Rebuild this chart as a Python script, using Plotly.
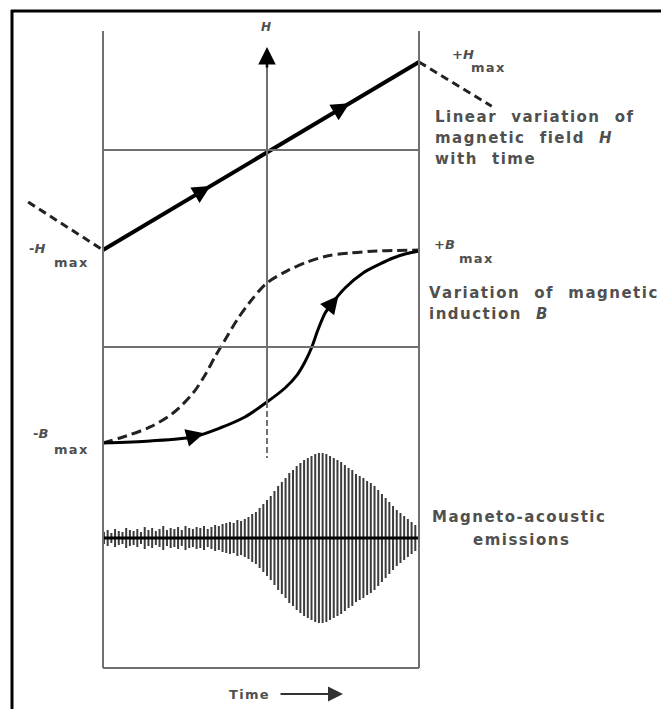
import numpy as np
import plotly.graph_objects as go

# ---------------- data (time in arbitrary units 0..10) ----------------
# Linear variation of magnetic field H (normalised to Hmax)
t_H = [0.0, 10.0]
H_vals = [-1.0, 1.0]
t_H_prev = [-2.37, 0.0]      # previous half cycle (dashed)
H_prev = [-0.49, -1.0]
t_H_next = [10.0, 12.3]      # next half cycle (dashed)
H_next = [1.0, 0.53]

# Magnetic induction B (normalised to Bmax) - solid branch
t_B_solid = [0.0, 1.49, 2.85, 3.70, 4.49, 5.19, 5.76, 6.14, 6.39, 6.61, 6.80, 7.03,
             7.28, 7.66, 8.23, 8.77, 9.18, 9.56, 10.0]
B_solid = [-1.0, -0.979, -0.9375, -0.844, -0.729, -0.573, -0.427, -0.292, -0.156, 0.0,
           0.177, 0.354, 0.469, 0.615, 0.771, 0.865, 0.927, 0.969, 1.0]
# dashed branch
t_B_dash = [0.0, 0.54, 1.49, 2.22, 2.85, 3.23, 3.54, 3.86, 4.24, 4.65, 5.19, 5.82,
            6.46, 7.09, 7.82, 8.67, 10.0]
B_dash = [-1.0, -0.948, -0.833, -0.688, -0.479, -0.292, -0.104, 0.073, 0.281, 0.469,
          0.667, 0.792, 0.885, 0.948, 0.979, 1.0, 1.01]

# Magneto-acoustic emission burst amplitudes (a.u.), evenly sampled over the sweep
emission_amp = [6, 8, 5, 9, 7, 6, 10, 8, 7, 9, 6, 11, 8, 10, 7, 9, 12, 8, 10, 9, 11, 8,
                12, 10, 9, 11, 10, 12, 9, 11, 13, 12, 14, 15, 16, 15, 18, 17, 19, 21, 24,
                26, 30, 34, 38, 42, 47, 52, 56, 60, 65, 68, 72, 75, 78, 80, 82, 84, 85,
                85, 84, 82, 80, 78, 76, 73, 70, 68, 64, 62, 60, 57, 55, 52, 48, 44, 40,
                36, 32, 28, 25, 22, 19, 16, 13, 10]
emission_t = np.linspace(0.03, 10.0, len(emission_amp))

t_axis = 5.19  # time at which H = 0 axis is drawn

# ---------------- figure geometry ----------------
W, Hh = 661, 709
X0_PX, PX_PER_T = 103, 31.6


def px(x):
    return x / W


def py(y):
    return 1 - y / Hh


fig = go.Figure()

# H line
fig.add_trace(go.Scatter(x=t_H, y=H_vals, mode="lines",
                         line=dict(color="black", width=4), yaxis="y"))
for tx, hy in ((t_H_prev, H_prev), (t_H_next, H_next)):
    fig.add_trace(go.Scatter(x=tx, y=hy, mode="lines",
                             line=dict(color="#222", width=3, dash="8px,5px"), yaxis="y"))

# B curves
fig.add_trace(go.Scatter(x=t_B_dash, y=B_dash, mode="lines", line_shape="spline",
                         line=dict(color="#222", width=3, dash="10px,5px", smoothing=0.9),
                         yaxis="y2"))
fig.add_trace(go.Scatter(x=t_B_solid, y=B_solid, mode="lines", line_shape="spline",
                         line=dict(color="black", width=3, smoothing=0.8), yaxis="y2"))

# emissions: vertical spikes
sx, sy = [], []
for t, a in zip(emission_t, emission_amp):
    sx += [t, t, None]
    sy += [-a, a, None]
fig.add_trace(go.Scatter(x=sx, y=sy, mode="lines",
                         line=dict(color="#3c3c3c", width=2), yaxis="y3"))
fig.add_trace(go.Scatter(x=[0, 10], y=[0, 0], mode="lines",
                         line=dict(color="black", width=3), yaxis="y3"))

# ---------------- structural lines ----------------
shapes = []
gray = "#707070"
# outer frame (top and left)
shapes.append(dict(type="line", xref="paper", yref="paper", x0=px(11), x1=1.0,
                   y0=py(11), y1=py(11), line=dict(color="black", width=3)))
shapes.append(dict(type="line", xref="paper", yref="paper", x0=px(12), x1=px(12),
                   y0=py(10), y1=0, line=dict(color="black", width=3)))
# box
for tx in (0, 10):
    shapes.append(dict(type="line", xref="x", yref="paper", x0=tx, x1=tx,
                       y0=py(31), y1=py(668), line=dict(color=gray, width=2)))
shapes.append(dict(type="line", xref="x", yref="paper", x0=0, x1=10,
                   y0=py(668), y1=py(668), line=dict(color=gray, width=2)))
shapes.append(dict(type="line", xref="x", yref="paper", x0=0, x1=10,
                   y0=py(150), y1=py(150), line=dict(color=gray, width=2)))
shapes.append(dict(type="line", xref="x", yref="y2", x0=0, x1=10,
                   y0=0, y1=0, line=dict(color=gray, width=2)))
# vertical axis
shapes.append(dict(type="line", xref="x", yref="paper", x0=t_axis, x1=t_axis,
                   y0=py(60), y1=py(402), line=dict(color=gray, width=2)))
shapes.append(dict(type="line", xref="x", yref="paper", x0=t_axis, x1=t_axis,
                   y0=py(402), y1=py(458), line=dict(color=gray, width=2, dash="6px,3px")))

# ---------------- arrowheads ----------------
ann = []


def curve_arrow(tt, yy, tip, back, yref):
    y_tip = float(np.interp(tip, tt, yy))
    y_back = float(np.interp(tip - back, tt, yy))
    ann.append(dict(x=tip, y=y_tip, xref="x", yref=yref, ax=tip - back, ay=y_back,
                    axref="x", ayref=yref, text="", showarrow=True, arrowhead=2,
                    arrowsize=1.2, arrowwidth=3, arrowcolor="black"))


curve_arrow(t_H, H_vals, 3.4, 0.5, "y")
curve_arrow(t_H, H_vals, 7.8, 0.5, "y")
curve_arrow(t_B_solid, B_solid, 3.2, 0.5, "y2")
curve_arrow(t_B_solid, B_solid, 7.45, 0.25, "y2")

# axis arrow
ann.append(dict(x=t_axis, y=py(47), xref="x", yref="paper", ax=0, ay=22, text="",
                showarrow=True, arrowhead=2, arrowsize=1.4, arrowwidth=2.5,
                arrowcolor="black"))
# time arrow
ann.append(dict(x=px(343), y=py(694), xref="paper", yref="paper", ax=-64, ay=0, text="",
                showarrow=True, arrowhead=2, arrowsize=1.5, arrowwidth=2,
                arrowcolor="#333"))

# ---------------- texts ----------------
TXT = "#505050"
FONT = "DejaVu Sans"
HS = "\u200a"   # hair space to widen the lettering like the original print
NB = "\u00a0"


def sp(s):
    return HS.join(s)


def label(text, x, y, anchor="left", size=15, bold=True):
    ann.append(dict(text=text, x=px(x), y=py(y), xref="paper", yref="paper",
                    xanchor=anchor, yanchor="middle", showarrow=False,
                    font=dict(family=FONT, size=size, color=TXT,
                              weight="bold" if bold else "normal")))


GAP = NB + NB + NB
label("<i>H</i>", 266, 27, "center", 12)
label("+<i>H</i>", 450, 55, "left", 13)
label(sp("max"), 469, 68, "left", 13)
label(sp("Linear") + GAP + sp("variation") + GAP + sp("of"), 433, 117)
label(sp("magnetic") + GAP + sp("field") + GAP + "<i>H</i>", 433, 138)
label(sp("with") + GAP + sp("time"), 433, 159)
label("-<i>H</i>", 47, 248, "right", 13)
label(sp("max"), 52, 262, "left", 13)
label("+<i>B</i>", 432, 244, "left", 13)
label(sp("max"), 457, 258, "left", 13)
label(sp("Variation") + GAP + sp("of") + GAP + sp("magnetic"), 427, 293)
label(sp("induction") + GAP + "<i>B</i>", 427, 314)
label("-<i>B</i>", 50, 433, "right", 13)
label(sp("max"), 52, 449, "left", 13)
label(sp("Magneto-acoustic"), 518, 517, "center")
label(sp("emissions"), 521, 540, "center")
label(sp("Time"), 249, 694, "center", 13)

fig.update_layout(
    width=W, height=Hh, margin=dict(l=0, r=0, t=0, b=0),
    paper_bgcolor="white", plot_bgcolor="white", showlegend=False,
    xaxis=dict(range=[-X0_PX / PX_PER_T, (W - X0_PX) / PX_PER_T], visible=False,
               domain=[0, 1], fixedrange=True),
    yaxis=dict(range=[(156 - Hh) / 94.0, 156 / 94.0], visible=False, domain=[0, 1]),
    yaxis2=dict(range=[(347 - Hh) / 96.0, 347 / 96.0], visible=False,
                overlaying="y"),
    yaxis3=dict(range=[538 - Hh, 538], visible=False, overlaying="y"),
    shapes=shapes, annotations=ann,
)

fig.write_html("out.html")
